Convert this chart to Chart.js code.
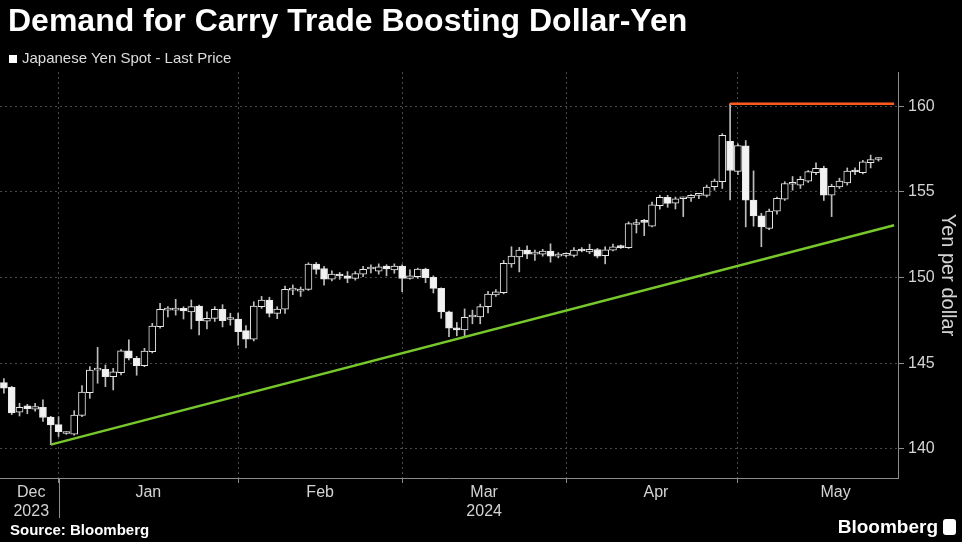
<!DOCTYPE html>
<html>
<head>
<meta charset="utf-8">
<script src="https://cdn.jsdelivr.net/npm/chart.js@4.4.1/dist/chart.umd.min.js"></script>
<style>
  html, body { margin: 0; padding: 0; background: #000; }
  body { width: 962px; height: 542px; position: relative; overflow: hidden;
         font-family: 'Liberation Sans', Arial, sans-serif; color: #fff; }
  #wrap { position: absolute; left: 0; top: 0; width: 962px; height: 542px; }
  h1 { position: absolute; left: 8px; top: 2px; margin: 0; font-size: 32px; line-height: 36px; font-weight: bold; white-space: nowrap; }
  .legend { position: absolute; left: 9px; top: 49px; font-size: 15px; line-height: 18px; color: #ddd; white-space: nowrap; }
  .legend i { display: inline-block; width: 8px; height: 8px; background: #fff; margin-right: 5px; }
  .source { position: absolute; left: 10px; top: 521px; font-size: 15px; font-weight: bold; }
  .brand { position: absolute; right: 6px; top: 516px; font-size: 19px; font-weight: bold; }
  .brand i { display: inline-block; width: 13px; height: 16px; background: #fff; border-radius: 3px; margin-left: 5px; vertical-align: -2px; }
</style>
</head>
<body>
<div id="wrap"><canvas id="chart"></canvas></div>
<h1>Demand for Carry Trade Boosting Dollar-Yen</h1>
<div class="legend"><i></i>Japanese Yen Spot - Last Price</div>
<div class="source">Source: Bloomberg</div>
<div class="brand">Bloomberg<i></i></div>
<script>
// trading days (weekdays), last two are empty room on the right
const dates = [
  '2023-12-20','2023-12-21','2023-12-22','2023-12-25','2023-12-26','2023-12-27','2023-12-28','2023-12-29',
  '2024-01-01','2024-01-02','2024-01-03','2024-01-04','2024-01-05','2024-01-08','2024-01-09','2024-01-10',
  '2024-01-11','2024-01-12','2024-01-15','2024-01-16','2024-01-17','2024-01-18','2024-01-19','2024-01-22',
  '2024-01-23','2024-01-24','2024-01-25','2024-01-26','2024-01-29','2024-01-30','2024-01-31',
  '2024-02-01','2024-02-02','2024-02-05','2024-02-06','2024-02-07','2024-02-08','2024-02-09','2024-02-12',
  '2024-02-13','2024-02-14','2024-02-15','2024-02-16','2024-02-19','2024-02-20','2024-02-21','2024-02-22',
  '2024-02-23','2024-02-26','2024-02-27','2024-02-28','2024-02-29',
  '2024-03-01','2024-03-04','2024-03-05','2024-03-06','2024-03-07','2024-03-08','2024-03-11','2024-03-12',
  '2024-03-13','2024-03-14','2024-03-15','2024-03-18','2024-03-19','2024-03-20','2024-03-21','2024-03-22',
  '2024-03-25','2024-03-26','2024-03-27','2024-03-28','2024-03-29',
  '2024-04-01','2024-04-02','2024-04-03','2024-04-04','2024-04-05','2024-04-08','2024-04-09','2024-04-10',
  '2024-04-11','2024-04-12','2024-04-15','2024-04-16','2024-04-17','2024-04-18','2024-04-19','2024-04-22',
  '2024-04-23','2024-04-24','2024-04-25','2024-04-26','2024-04-29','2024-04-30',
  '2024-05-01','2024-05-02','2024-05-03','2024-05-06','2024-05-07','2024-05-08','2024-05-09','2024-05-10',
  '2024-05-13','2024-05-14','2024-05-15','2024-05-16','2024-05-17','2024-05-20','2024-05-21','2024-05-22',
  '2024-05-23','2024-05-24','2024-05-27','2024-05-28'
];

const opens = [
  143.87,143.60,142.14,142.51,142.32,142.43,141.85,141.42,
  140.90,140.86,141.96,143.28,144.60,144.64,144.22,144.45,145.73,145.29,144.86,145.67,147.13,148.10,148.10,148.20,148.00,148.34,147.46,147.62,148.15,147.55,147.58,
  146.90,146.40,148.30,148.69,147.91,148.15,149.27,149.20,149.31,150.79,150.53,149.90,150.18,150.10,149.95,150.20,150.50,150.38,150.67,150.44,150.67,
  149.95,150.05,150.50,150.01,149.37,148.00,147.07,146.94,147.70,147.71,148.30,148.98,149.12,150.79,151.20,151.60,151.37,151.37,151.55,151.25,151.30,
  151.30,151.65,151.50,151.64,151.28,151.60,151.80,151.75,153.10,153.25,153.00,154.20,154.68,154.35,154.60,154.65,154.80,154.80,155.30,155.60,157.95,156.20,
  157.69,154.52,153.60,152.87,153.88,154.58,155.45,155.39,155.63,156.13,156.37,154.81,155.29,155.53,156.20,156.12,156.70,156.89
];
const highs = [
  144.10,143.65,142.66,142.60,142.66,142.86,141.90,141.88,
  141.00,142.23,143.69,144.80,145.93,144.90,144.70,145.80,146.36,145.40,145.87,147.33,148.50,148.30,148.73,148.30,148.69,148.40,148.00,148.30,148.42,147.92,147.92,
  147.20,148.59,148.90,148.85,148.30,149.50,149.57,149.45,150.86,150.88,150.65,150.40,150.30,150.35,150.35,150.65,150.75,150.80,150.75,150.80,150.75,
  150.45,150.55,150.55,150.10,149.40,148.05,147.38,148.17,148.10,148.45,149.20,149.30,151.00,151.80,151.76,151.86,151.60,151.65,151.97,151.45,151.45,
  151.75,151.75,151.95,151.70,151.80,151.95,151.90,153.25,153.40,153.40,154.40,154.80,154.80,154.70,154.70,154.85,154.90,155.40,155.75,158.40,160.15,157.80,
  158.00,156.23,153.75,154.00,154.70,155.60,155.90,155.90,156.25,156.70,156.50,155.45,155.80,156.40,156.40,156.85,157.15,157.00
];
const lows = [
  143.25,142.00,141.92,142.05,142.20,141.60,140.25,140.72,
  140.85,140.80,141.88,142.95,143.83,143.63,143.44,144.31,145.19,144.30,144.80,145.60,147.05,147.70,147.81,147.58,147.00,146.65,147.00,147.44,147.12,147.22,146.06,
  145.90,146.30,148.20,147.70,147.60,147.90,149.00,148.90,149.25,150.20,149.56,149.80,149.90,149.70,149.85,150.05,150.27,150.20,150.10,150.25,149.17,
  149.90,149.95,149.70,149.10,147.62,146.55,146.60,146.55,147.30,147.30,147.93,148.90,149.05,150.60,150.33,151.10,151.00,151.25,150.90,151.15,151.20,
  151.20,151.50,151.40,151.15,150.80,151.55,151.70,151.70,152.60,152.45,152.95,154.00,154.10,154.00,153.56,154.45,154.60,154.70,155.10,155.20,154.54,156.00,
  152.96,153.00,151.80,152.80,153.70,154.50,155.10,155.20,155.55,156.00,154.50,153.56,155.20,155.40,156.00,156.05,156.40,156.80
];
const closes = [
  143.55,142.10,142.43,142.35,142.47,141.83,141.40,141.01,
  140.93,141.98,143.31,144.60,144.66,144.22,144.50,145.73,145.29,144.86,145.71,147.17,148.15,148.15,148.12,148.05,148.30,147.48,147.62,148.15,147.48,147.58,146.84,
  146.40,148.34,148.69,147.91,148.16,149.31,149.30,149.33,150.79,150.47,149.90,150.20,150.09,149.95,150.24,150.48,150.52,150.63,150.50,150.67,149.95,
  150.10,150.50,150.00,149.37,148.00,147.04,146.94,147.68,147.75,148.30,149.04,149.17,150.83,151.25,151.60,151.37,151.40,151.55,151.25,151.35,151.35,
  151.60,151.55,151.65,151.25,151.62,151.80,151.75,153.15,153.20,153.22,154.25,154.68,154.33,154.60,154.62,154.80,154.82,155.28,155.63,158.31,156.25,157.70,
  154.52,153.60,152.96,153.88,154.62,155.49,155.50,155.73,156.18,156.37,154.81,155.33,155.63,156.21,156.16,156.76,156.89,156.92
];

// trend line from the December low, and the April 29 peak level
const trendDates = ['2023-12-28', '2024-05-28'];
const trendValues = [140.25, 153.05];
const peakDates = ['2024-04-29', '2024-05-28'];
const peakValues = [160.15, 160.15];

const yTicks = [140, 145, 150, 155, 160];
const labelDates = ['2023-12-25', '2024-01-15', '2024-02-14', '2024-03-14', '2024-04-15', '2024-05-16'];
const monthLabels = [['Dec', '2023'], 'Jan', 'Feb', ['Mar', '2024'], 'Apr', 'May'];

const FONT = "'Liberation Sans', Arial, sans-serif";
const GRID = '#4a4a4a';
const AXIS = '#8c8c8c';
const TEXT = '#d4d4d4';

// last trading day of each month -> month separator
const monthEnds = new Set();
const yearEnds = new Set();
dates.forEach((d, i) => {
  const n = dates[i + 1];
  if (n && n.slice(0, 7) !== d.slice(0, 7)) monthEnds.add(i);
  if (n && n.slice(0, 4) !== d.slice(0, 4)) yearEnds.add(i);
});

const bodies = dates.map((d, i) => i < opens.length ? [opens[i], closes[i]] : null);
const wicks = dates.map((d, i) => i < lows.length ? [lows[i], highs[i]] : null);

const yearLine = {
  id: 'yearLine',
  afterDraw(chart) {
    const { ctx, chartArea, scales: { x } } = chart;
    ctx.save();
    ctx.strokeStyle = AXIS;
    ctx.lineWidth = 1;
    yearEnds.forEach(i => {
      const px = Math.round(x.getPixelForTick(i)) + 0.5;
      ctx.beginPath();
      ctx.moveTo(px, chartArea.bottom);
      ctx.lineTo(px, chartArea.bottom + 40);
      ctx.stroke();
    });
    ctx.restore();
  }
};

new Chart(document.getElementById('chart'), {
  type: 'bar',
  data: {
    labels: dates,
    datasets: [
      {
        type: 'line', label: 'Trend', data: trendDates.map((d, i) => ({ x: d, y: trendValues[i] })),
        borderColor: '#78c82c', borderWidth: 2.5, pointRadius: 0, order: 0
      },
      {
        type: 'line', label: 'Peak', data: peakDates.map((d, i) => ({ x: d, y: peakValues[i] })),
        borderColor: '#ff5a1e', borderWidth: 2.5, pointRadius: 0, order: 0
      },
      {
        label: 'Japanese Yen Spot - Last Price', data: bodies, grouped: false,
        barThickness: 7, minBarLength: 2, borderWidth: 1, borderSkipped: false,
        borderColor: '#e8e8e8',
        backgroundColor: c => (closes[c.dataIndex] >= opens[c.dataIndex] ? '#000' : '#f2f2f2'),
        order: 1
      },
      {
        label: 'range', data: wicks, grouped: false,
        barThickness: 1, borderWidth: 0, backgroundColor: '#bdbdbd',
        order: 2
      }
    ]
  },
  options: {
    responsive: true,
    maintainAspectRatio: false,
    animation: false,
    layout: { padding: { top: 72, left: 0, right: 0, bottom: 0 } },
    plugins: { legend: { display: false }, tooltip: { enabled: false } },
    scales: {
      x: {
        type: 'category',
        offset: true,
        grid: {
          offset: false,
          color: c => (monthEnds.has(c.index) ? GRID : 'transparent'),
          tickColor: c => (monthEnds.has(c.index) ? AXIS : 'transparent'),
          tickLength: 5,
          tickBorderDash: []
        },
        border: { color: AXIS, dash: [2, 3] },
        ticks: {
          autoSkip: false, maxRotation: 0, minRotation: 0,
          color: TEXT, font: { family: FONT, size: 16 }, padding: 0,
          labelOffset: 3.9,
          callback: (v, i) => {
            const k = labelDates.indexOf(dates[i]);
            return k >= 0 ? monthLabels[k] : '';
          }
        },
        afterFit: s => { s.height = 64; }
      },
      y: {
        position: 'right',
        min: 138.3,
        max: 162,
        afterBuildTicks: s => { s.ticks = yTicks.map(v => ({ value: v })); },
        grid: { color: GRID, tickColor: AXIS, tickLength: 6, tickBorderDash: [] },
        border: { color: AXIS, dash: [2, 3] },
        ticks: { color: TEXT, font: { family: FONT, size: 16 }, padding: 4 },
        title: { display: true, text: 'Yen per dollar', color: TEXT, font: { family: FONT, size: 20 }, padding: 2 },
        afterFit: s => { s.width = 64; }
      }
    }
  },
  plugins: [yearLine]
});
</script>
</body>
</html>
